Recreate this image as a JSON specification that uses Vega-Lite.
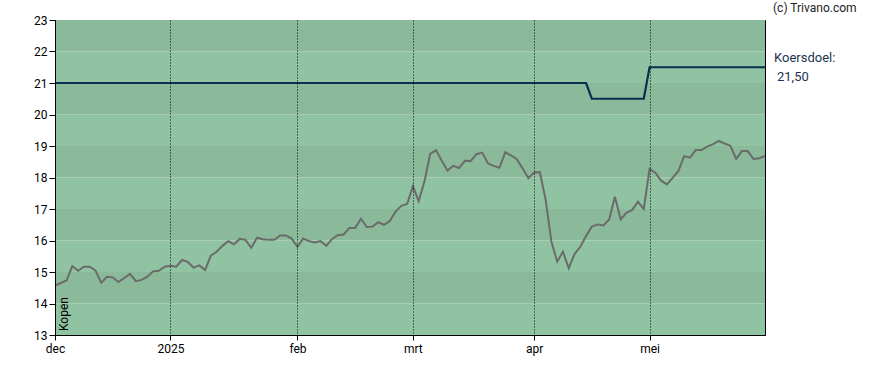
{
  "$schema": "https://vega.github.io/schema/vega-lite/v6.json",
  "width": 710,
  "height": 315,
  "autosize": {"type": "none"},
  "padding": {"left": 55, "top": 20, "right": 123, "bottom": 35},
  "background": "white",
  "config": {
    "font": "Roboto",
    "view": {"stroke": "black", "strokeWidth": 1},
    "axis": {"labelFont": "Roboto", "labelFontSize": 12, "labelColor": "black", "domainColor": "black", "tickColor": "black", "title": null, "labelOverlap": false, "labelFlush": false}
  },
  "datasets": {
    "bands": [
      {"lo": 13, "hi": 14, "s": "licht"},
      {"lo": 14, "hi": 15, "s": "donker"},
      {"lo": 15, "hi": 16, "s": "licht"},
      {"lo": 16, "hi": 17, "s": "donker"},
      {"lo": 17, "hi": 18, "s": "licht"},
      {"lo": 18, "hi": 19, "s": "donker"},
      {"lo": 19, "hi": 20, "s": "licht"},
      {"lo": 20, "hi": 21, "s": "donker"},
      {"lo": 21, "hi": 22, "s": "licht"},
      {"lo": 22, "hi": 23, "s": "donker"}
    ],
    "prices": [
      {"datum": "2024-12-02", "koers": 14.57, "doel": 21},
      {"datum": "2024-12-03", "koers": 14.65, "doel": 21},
      {"datum": "2024-12-04", "koers": 14.73, "doel": 21},
      {"datum": "2024-12-05", "koers": 15.19, "doel": 21},
      {"datum": "2024-12-06", "koers": 15.04, "doel": 21},
      {"datum": "2024-12-09", "koers": 15.17, "doel": 21},
      {"datum": "2024-12-10", "koers": 15.17, "doel": 21},
      {"datum": "2024-12-11", "koers": 15.05, "doel": 21},
      {"datum": "2024-12-12", "koers": 14.66, "doel": 21},
      {"datum": "2024-12-13", "koers": 14.85, "doel": 21},
      {"datum": "2024-12-16", "koers": 14.83, "doel": 21},
      {"datum": "2024-12-17", "koers": 14.68, "doel": 21},
      {"datum": "2024-12-18", "koers": 14.81, "doel": 21},
      {"datum": "2024-12-19", "koers": 14.94, "doel": 21},
      {"datum": "2024-12-20", "koers": 14.71, "doel": 21},
      {"datum": "2024-12-23", "koers": 14.75, "doel": 21},
      {"datum": "2024-12-24", "koers": 14.85, "doel": 21},
      {"datum": "2024-12-27", "koers": 15.02, "doel": 21},
      {"datum": "2024-12-30", "koers": 15.04, "doel": 21},
      {"datum": "2024-12-31", "koers": 15.17, "doel": 21},
      {"datum": "2025-01-02", "koers": 15.20, "doel": 21},
      {"datum": "2025-01-03", "koers": 15.17, "doel": 21},
      {"datum": "2025-01-06", "koers": 15.38, "doel": 21},
      {"datum": "2025-01-07", "koers": 15.32, "doel": 21},
      {"datum": "2025-01-08", "koers": 15.14, "doel": 21},
      {"datum": "2025-01-09", "koers": 15.21, "doel": 21},
      {"datum": "2025-01-10", "koers": 15.06, "doel": 21},
      {"datum": "2025-01-13", "koers": 15.52, "doel": 21},
      {"datum": "2025-01-14", "koers": 15.64, "doel": 21},
      {"datum": "2025-01-15", "koers": 15.83, "doel": 21},
      {"datum": "2025-01-16", "koers": 15.98, "doel": 21},
      {"datum": "2025-01-17", "koers": 15.88, "doel": 21},
      {"datum": "2025-01-20", "koers": 16.05, "doel": 21},
      {"datum": "2025-01-21", "koers": 16.02, "doel": 21},
      {"datum": "2025-01-22", "koers": 15.77, "doel": 21},
      {"datum": "2025-01-23", "koers": 16.09, "doel": 21},
      {"datum": "2025-01-24", "koers": 16.04, "doel": 21},
      {"datum": "2025-01-27", "koers": 16.02, "doel": 21},
      {"datum": "2025-01-28", "koers": 16.02, "doel": 21},
      {"datum": "2025-01-29", "koers": 16.16, "doel": 21},
      {"datum": "2025-01-30", "koers": 16.16, "doel": 21},
      {"datum": "2025-01-31", "koers": 16.06, "doel": 21},
      {"datum": "2025-02-03", "koers": 15.80, "doel": 21},
      {"datum": "2025-02-04", "koers": 16.06, "doel": 21},
      {"datum": "2025-02-05", "koers": 15.98, "doel": 21},
      {"datum": "2025-02-06", "koers": 15.94, "doel": 21},
      {"datum": "2025-02-07", "koers": 15.98, "doel": 21},
      {"datum": "2025-02-10", "koers": 15.83, "doel": 21},
      {"datum": "2025-02-11", "koers": 16.05, "doel": 21},
      {"datum": "2025-02-12", "koers": 16.17, "doel": 21},
      {"datum": "2025-02-13", "koers": 16.19, "doel": 21},
      {"datum": "2025-02-14", "koers": 16.40, "doel": 21},
      {"datum": "2025-02-17", "koers": 16.40, "doel": 21},
      {"datum": "2025-02-18", "koers": 16.69, "doel": 21},
      {"datum": "2025-02-19", "koers": 16.43, "doel": 21},
      {"datum": "2025-02-20", "koers": 16.44, "doel": 21},
      {"datum": "2025-02-21", "koers": 16.58, "doel": 21},
      {"datum": "2025-02-24", "koers": 16.50, "doel": 21},
      {"datum": "2025-02-25", "koers": 16.62, "doel": 21},
      {"datum": "2025-02-26", "koers": 16.92, "doel": 21},
      {"datum": "2025-02-27", "koers": 17.10, "doel": 21},
      {"datum": "2025-02-28", "koers": 17.16, "doel": 21},
      {"datum": "2025-03-03", "koers": 17.72, "doel": 21},
      {"datum": "2025-03-04", "koers": 17.25, "doel": 21},
      {"datum": "2025-03-05", "koers": 17.87, "doel": 21},
      {"datum": "2025-03-06", "koers": 18.75, "doel": 21},
      {"datum": "2025-03-07", "koers": 18.87, "doel": 21},
      {"datum": "2025-03-10", "koers": 18.53, "doel": 21},
      {"datum": "2025-03-11", "koers": 18.22, "doel": 21},
      {"datum": "2025-03-12", "koers": 18.37, "doel": 21},
      {"datum": "2025-03-13", "koers": 18.30, "doel": 21},
      {"datum": "2025-03-14", "koers": 18.53, "doel": 21},
      {"datum": "2025-03-17", "koers": 18.52, "doel": 21},
      {"datum": "2025-03-18", "koers": 18.74, "doel": 21},
      {"datum": "2025-03-19", "koers": 18.79, "doel": 21},
      {"datum": "2025-03-20", "koers": 18.45, "doel": 21},
      {"datum": "2025-03-21", "koers": 18.37, "doel": 21},
      {"datum": "2025-03-24", "koers": 18.31, "doel": 21},
      {"datum": "2025-03-25", "koers": 18.80, "doel": 21},
      {"datum": "2025-03-26", "koers": 18.70, "doel": 21},
      {"datum": "2025-03-27", "koers": 18.58, "doel": 21},
      {"datum": "2025-03-28", "koers": 18.29, "doel": 21},
      {"datum": "2025-03-31", "koers": 17.98, "doel": 21},
      {"datum": "2025-04-01", "koers": 18.16, "doel": 21},
      {"datum": "2025-04-02", "koers": 18.17, "doel": 21},
      {"datum": "2025-04-03", "koers": 17.29, "doel": 21},
      {"datum": "2025-04-04", "koers": 15.96, "doel": 21},
      {"datum": "2025-04-07", "koers": 15.33, "doel": 21},
      {"datum": "2025-04-08", "koers": 15.64, "doel": 21},
      {"datum": "2025-04-09", "koers": 15.12, "doel": 21},
      {"datum": "2025-04-10", "koers": 15.57, "doel": 21},
      {"datum": "2025-04-11", "koers": 15.80, "doel": 21},
      {"datum": "2025-04-14", "koers": 16.14, "doel": 21},
      {"datum": "2025-04-15", "koers": 16.44, "doel": 20.5},
      {"datum": "2025-04-16", "koers": 16.51, "doel": 20.5},
      {"datum": "2025-04-17", "koers": 16.48, "doel": 20.5},
      {"datum": "2025-04-22", "koers": 16.67, "doel": 20.5},
      {"datum": "2025-04-23", "koers": 17.39, "doel": 20.5},
      {"datum": "2025-04-24", "koers": 16.67, "doel": 20.5},
      {"datum": "2025-04-25", "koers": 16.88, "doel": 20.5},
      {"datum": "2025-04-28", "koers": 16.97, "doel": 20.5},
      {"datum": "2025-04-29", "koers": 17.23, "doel": 20.5},
      {"datum": "2025-04-30", "koers": 17.00, "doel": 20.5},
      {"datum": "2025-05-02", "koers": 18.27, "doel": 21.5},
      {"datum": "2025-05-05", "koers": 18.15, "doel": 21.5},
      {"datum": "2025-05-06", "koers": 17.90, "doel": 21.5},
      {"datum": "2025-05-07", "koers": 17.78, "doel": 21.5},
      {"datum": "2025-05-08", "koers": 17.99, "doel": 21.5},
      {"datum": "2025-05-09", "koers": 18.21, "doel": 21.5},
      {"datum": "2025-05-12", "koers": 18.68, "doel": 21.5},
      {"datum": "2025-05-13", "koers": 18.63, "doel": 21.5},
      {"datum": "2025-05-14", "koers": 18.87, "doel": 21.5},
      {"datum": "2025-05-15", "koers": 18.87, "doel": 21.5},
      {"datum": "2025-05-16", "koers": 18.98, "doel": 21.5},
      {"datum": "2025-05-19", "koers": 19.06, "doel": 21.5},
      {"datum": "2025-05-20", "koers": 19.16, "doel": 21.5},
      {"datum": "2025-05-21", "koers": 19.08, "doel": 21.5},
      {"datum": "2025-05-22", "koers": 19.01, "doel": 21.5},
      {"datum": "2025-05-23", "koers": 18.59, "doel": 21.5},
      {"datum": "2025-05-26", "koers": 18.84, "doel": 21.5},
      {"datum": "2025-05-27", "koers": 18.84, "doel": 21.5},
      {"datum": "2025-05-28", "koers": 18.59, "doel": 21.5},
      {"datum": "2025-05-29", "koers": 18.61, "doel": 21.5},
      {"datum": "2025-05-30", "koers": 18.68, "doel": 21.5}
    ]
  },
  "layer": [
    {
      "data": {"name": "bands"},
      "mark": {"type": "rect", "strokeWidth": 0},
      "encoding": {
        "y": {
          "field": "lo", "type": "quantitative",
          "scale": {"domain": [13, 23], "nice": false, "zero": false},
          "axis": {"values": [13, 14, 15, 16, 17, 18, 19, 20, 21, 22, 23], "tickCount": 20, "format": "d", "grid": false, "tickSize": 6, "labelPadding": 2, "zindex": 1, "labelOverlap": false}
        },
        "y2": {"field": "hi"},
        "color": {
          "field": "s", "type": "nominal",
          "scale": {"domain": ["donker", "licht"], "range": ["#8aba9a", "#90c3a2"]},
          "legend": null
        }
      }
    },
    {
      "data": {"name": "prices"},
      "mark": {"type": "line", "color": "#0b2f4f", "strokeWidth": 2.2},
      "encoding": {
        "x": {
          "field": "datum", "type": "ordinal",
          "scale": {"type": "point", "padding": 0},
          "axis": {
            "values": ["2024-12-02", "2025-01-02", "2025-02-03", "2025-03-03", "2025-04-01", "2025-05-02"],
            "labelExpr": "{'2024-12-02':'dec','2025-01-02':'2025','2025-02-03':'feb','2025-03-03':'mrt','2025-04-01':'apr','2025-05-02':'mei'}[datum.value]",
            "labelAngle": 0,
            "grid": true, "gridColor": "black", "gridDash": [1, 2], "gridWidth": 1, "gridOpacity": 1,
            "tickSize": 5, "labelPadding": 3, "zindex": 1
          }
        },
        "y": {
          "field": "doel", "type": "quantitative",
          "axis": {"values": [13, 14, 15, 16, 17, 18, 19, 20, 21, 22, 23], "tickCount": 20, "format": "d", "grid": false, "tickSize": 6, "labelPadding": 2, "zindex": 1, "labelOverlap": false}
        }
      }
    },
    {
      "data": {"name": "prices"},
      "mark": {"type": "line", "color": "#6b6b6b", "strokeWidth": 2},
      "encoding": {
        "x": {"field": "datum", "type": "ordinal", "scale": {"type": "point", "padding": 0}},
        "y": {"field": "koers", "type": "quantitative"}
      }
    },
    {
      "data": {"name": "prices"},
      "transform": [{"filter": "datum.datum == '2024-12-02'"}],
      "mark": {"type": "text", "angle": 270, "align": "left", "baseline": "alphabetic", "dx": 4, "dy": 13, "fontSize": 12, "color": "black", "font": "Roboto"},
      "encoding": {
        "x": {"field": "datum", "type": "ordinal", "scale": {"type": "point", "padding": 0}},
        "y": {"datum": 13, "type": "quantitative"},
        "text": {"value": "Kopen"}
      }
    },
    {
      "data": {"name": "prices"},
      "transform": [{"filter": "datum.datum == '2025-05-30'"}],
      "mark": {"type": "text", "align": "left", "baseline": "middle", "dx": 8, "dy": -12, "fontSize": 12, "color": "#222222", "font": "Roboto"},
      "encoding": {
        "x": {"field": "datum", "type": "ordinal", "scale": {"type": "point", "padding": 0}},
        "y": {"datum": 23, "type": "quantitative"},
        "text": {"value": "(c) Trivano.com"}
      }
    },
    {
      "data": {"name": "prices"},
      "transform": [{"filter": "datum.datum == '2025-05-30'"}],
      "mark": {"type": "text", "align": "left", "baseline": "middle", "dx": 9, "dy": -9, "fontSize": 13, "color": "#1c3550", "font": "Roboto"},
      "encoding": {
        "x": {"field": "datum", "type": "ordinal", "scale": {"type": "point", "padding": 0}},
        "y": {"field": "doel", "type": "quantitative"},
        "text": {"value": "Koersdoel:"}
      }
    },
    {
      "data": {"name": "prices"},
      "transform": [{"filter": "datum.datum == '2025-05-30'"}],
      "mark": {"type": "text", "align": "left", "baseline": "middle", "dx": 12, "dy": 10, "fontSize": 13, "color": "#1c3550", "font": "Roboto"},
      "encoding": {
        "x": {"field": "datum", "type": "ordinal", "scale": {"type": "point", "padding": 0}},
        "y": {"field": "doel", "type": "quantitative"},
        "text": {"value": "21,50"}
      }
    }
  ]
}
